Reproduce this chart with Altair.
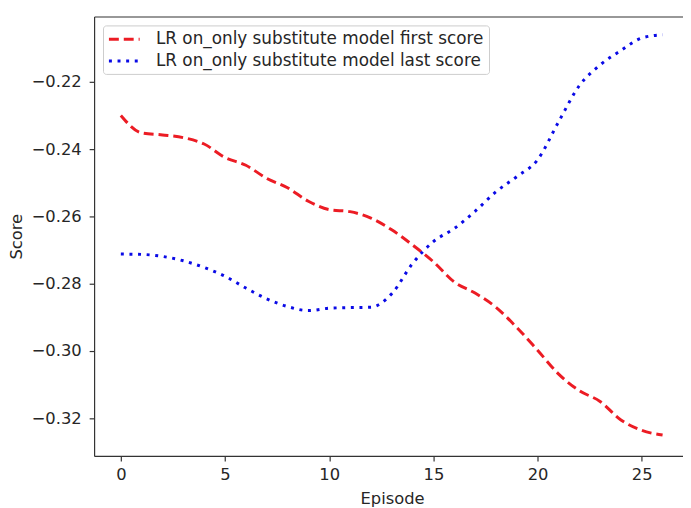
import altair as alt
import pandas as pd

episodes = list(range(27))
first_score = [-0.2300, -0.2352, -0.2358, -0.2366, -0.2385, -0.2425, -0.2448, -0.2487,
               -0.2515, -0.2555, -0.2580, -0.2586, -0.2605, -0.2640, -0.2685, -0.2735,
               -0.2795, -0.2828, -0.2870, -0.2930, -0.2998, -0.3068, -0.3118, -0.3150,
               -0.3205, -0.3236, -0.3250]
last_score = [-0.2712, -0.2713, -0.2719, -0.2732, -0.2752, -0.2778, -0.2813, -0.2845,
              -0.2868, -0.2880, -0.2873, -0.2871, -0.2870, -0.2830, -0.2740, -0.2675,
              -0.2636, -0.2585, -0.2527, -0.2482, -0.2432, -0.2320, -0.2212, -0.2150,
              -0.2107, -0.2070, -0.2060]
series_names = ["LR on_only substitute model first score",
                "LR on_only substitute model last score"]
x_ticks = [0, 5, 10, 15, 20, 25]
y_ticks = [-0.32, -0.30, -0.28, -0.26, -0.24, -0.22]

rows = []
for name, vals in zip(series_names, [first_score, last_score]):
    for e, v in zip(episodes, vals):
        rows.append({"Episode": e, "Score": v, "series": name})
df = pd.DataFrame(rows)

W, H = 595, 444
FONT = "DejaVu Sans"
FS = 16.5
TXT = "#262626"
AX = "#333333"

xscale = alt.Scale(domain=[-1.283, 26.98], nice=False, zero=False)
yscale = alt.Scale(domain=[-0.3312, -0.2006], nice=False, zero=False)

lines = alt.Chart(df).mark_line(interpolate="monotone", strokeWidth=3, strokeCap="butt").encode(
    x=alt.X("Episode:Q", scale=xscale,
            axis=alt.Axis(values=x_ticks, format="d", title="Episode", grid=False,
                          titleX=301, titlePadding=8, labelPadding=6)),
    y=alt.Y("Score:Q", scale=yscale,
            axis=alt.Axis(values=y_ticks, format=".2f", title="Score", grid=False,
                          titleY=222, titlePadding=7, labelPadding=8)),
    color=alt.Color("series:N",
                    scale=alt.Scale(domain=series_names, range=["#ec1c24", "#0a0ae6"]),
                    legend=alt.Legend(title=None, orient="none", legendX=9, legendY=9,
                                      symbolType="M-2.07,0H2.07", symbolSize=225,
                                      symbolStrokeWidth=3, symbolOffset=7.5,
                                      labelFontSize=17, labelFont=FONT, labelColor=TXT,
                                      labelLimit=500, labelOffset=23,
                                      fillColor="white", strokeColor="#cccccc",
                                      cornerRadius=3, padding=5, rowPadding=5)),
    strokeDash=alt.StrokeDash("series:N",
                              scale=alt.Scale(domain=series_names, range=[[10, 5], [3, 5.7]]),
                              legend=alt.Legend(title=None)),
)

top_spine = alt.Chart(df).mark_point(opacity=0).encode(
    x=alt.X("Episode:Q", scale=xscale,
            axis=alt.Axis(orient="top", labels=False, ticks=False, title=None, grid=False,
                          domain=True)),
)

chart = alt.layer(lines, top_spine).resolve_axis(x="independent").properties(
    width=W, height=H,
    autosize=alt.AutoSizeParams(type="none"),
    padding={"left": 87, "top": 6, "right": 0, "bottom": 50},
).configure_view(stroke=None).configure_axis(
    labelFont=FONT, labelFontSize=FS, labelColor=TXT,
    titleFont=FONT, titleFontSize=FS, titleColor=TXT, titleFontWeight="normal",
    domainColor=AX, domainWidth=1.2, tickColor=AX, tickWidth=1.2, tickSize=5,
)

chart.save("out.html", embed_options={"renderer": "svg", "actions": False})
